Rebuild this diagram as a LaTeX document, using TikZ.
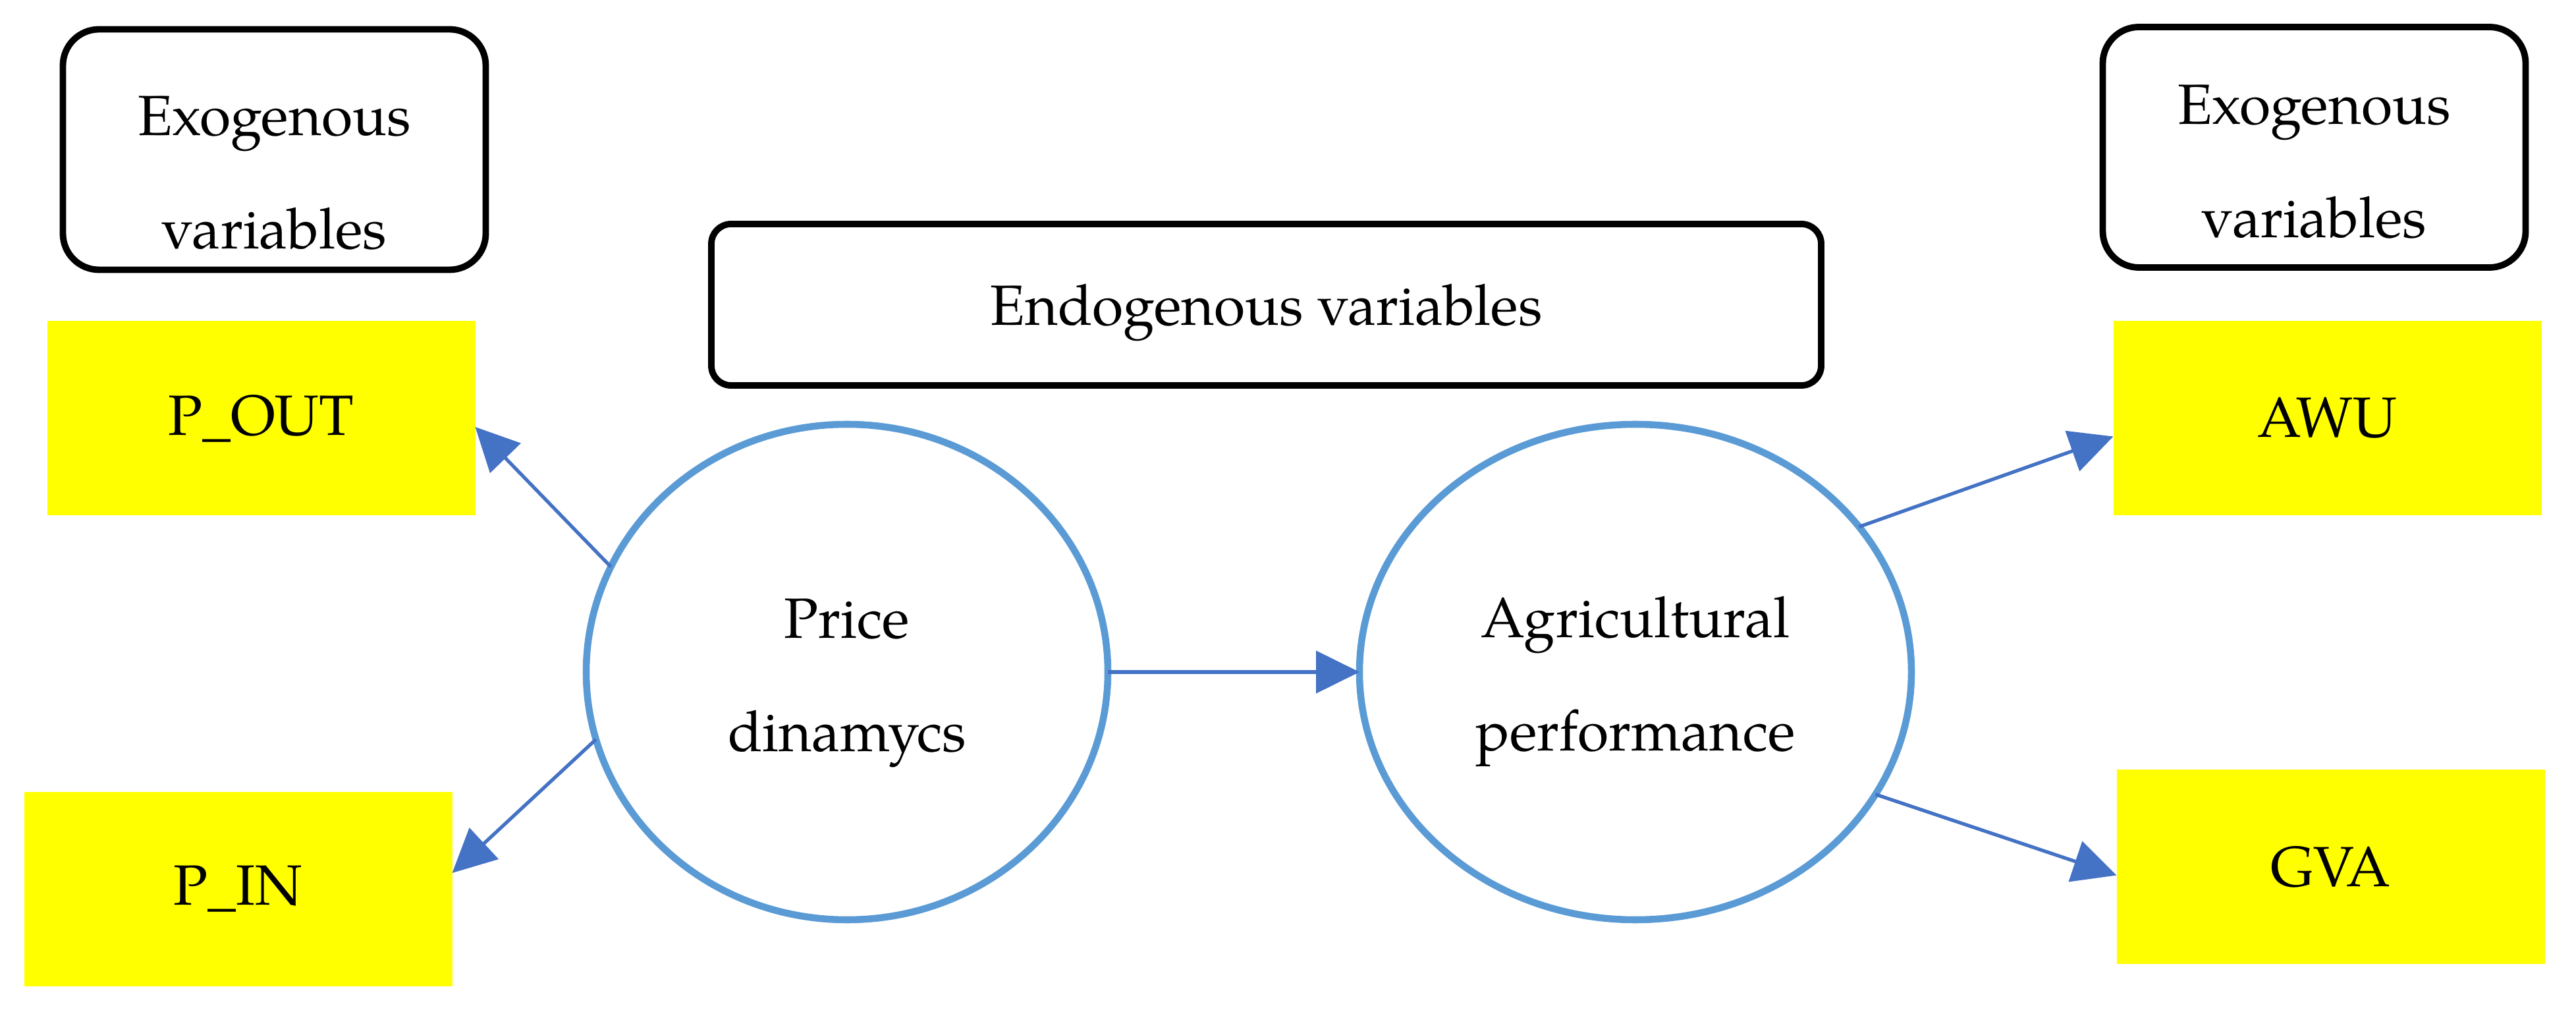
\documentclass[tikz,border=0pt]{standalone}
\usepackage{fontspec}
\setmainfont{TeX Gyre Pagella}
\usetikzlibrary{arrows.meta,positioning,shapes.geometric}
\definecolor{VarYellow}{HTML}{FFFF00}
\definecolor{LatentBlue}{HTML}{5B9BD5}
\definecolor{ArrowBlue}{HTML}{4472C4}

\begin{document}
\begin{tikzpicture}[
  font=\fontsize{24.5}{49}\selectfont,
  box/.style={align=center, outer sep=0pt, inner sep=0pt},
  head/.style={box, draw, line width=2.8pt, rounded corners=5.5mm, minimum width=64.2mm, minimum height=36.5mm},
  endo/.style={box, draw, line width=2.8pt, rounded corners=3mm, minimum width=168.5mm, minimum height=24.5mm},
  var/.style={box, fill=VarYellow, minimum width=65mm, minimum height=29.5mm},
  latent/.style={box, ellipse, draw=LatentBlue, line width=3pt, minimum height=75.2mm},
  arr/.style={-{Triangle[length=6.6mm, width=6.4mm]}, line width=1.5pt, color=ArrowBlue}
]
  \useasboundingbox (0,0) rectangle (39.11,15.38);

  \node[latent, minimum width=79.2mm] (price) at (12.86,5.18) {\rule{0pt}{26.5pt}Price\\dinamycs};
  \node[latent, minimum width=83.8mm, right=38.2mm of price] (agri) {\rule{0pt}{26pt}Agricultural\\performance};

  \node[endo] (endovar) at (19.225,10.755) {\rule{0pt}{24.5pt}Endogenous variables};

  \node[var] (pout) at (3.965,9.03) {P\_OUT};
  \node[var] (pin) at (3.615,1.89) {P\_IN};
  \node[var] (awu) at (35.335,9.035) {AWU};
  \node[var, below=38.6mm of awu, xshift=0.5mm] (gva) {GVA};

  \node[head, above=7.8mm of pout, xshift=2mm] (exoleft) {\rule{0pt}{37pt}Exogenous\\variables};
  \node[head, above=8.1mm of awu, xshift=-2mm] (exoright) {\rule{0pt}{29.5pt}Exogenous\\variables};

  \draw[arr] (price.156.9) -- ([yshift=-1.3mm]pout.east);
  \draw[arr] (price.195.6) -- ([yshift=2.4mm]pin.east);
  \draw[arr] (price) -- (agri);
  \draw[arr] (agri.33.5) -- ([yshift=-2.8mm]awu.west);
  \draw[arr] (agri.-27.1) -- ([yshift=-1.3mm]gva.west);
\end{tikzpicture}
\end{document}
